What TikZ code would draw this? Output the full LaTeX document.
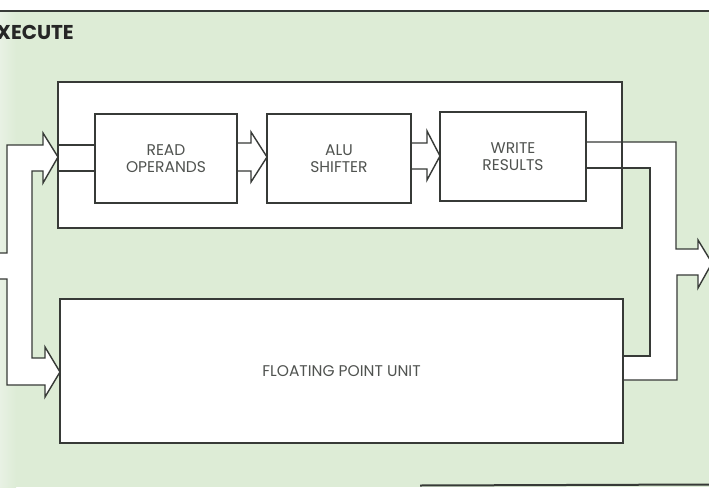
\documentclass[tikz,border=0pt]{standalone}
\usepackage{fontspec}
\setmainfont{Poppins}
\definecolor{bg}{RGB}{221,236,214}
\definecolor{bgl}{RGB}{232,241,228}
\definecolor{linec}{RGB}{55,58,55}
\definecolor{txtc}{RGB}{80,83,80}
\begin{document}
\begin{tikzpicture}[x=1pt,y=-1pt,
  ln/.style={draw=linec, line width=1.4pt, line join=miter},
  blk/.style={draw=linec, fill=white, line width=1.4pt, rectangle, inner sep=0pt,
    font=\fontsize{15.5}{16.5}\selectfont, text=txtc, align=center},
  fat/.style={fill=white}]
\useasboundingbox (0,0) rectangle (709,487);
\clip (0,0) rectangle (709,487);
% background
\fill[white] (0,0) rectangle (709,487);
\fill[bg] (0,11) rectangle (709,487);
\shade[left color=bgl, right color=bg] (0,11) rectangle (16,487);
\draw[linec, line width=2pt] (0,11) -- (709,11);
\draw[linec, line width=2pt] (420,485.5) -- (709,484.5);
% title
\node[anchor=base east, font=\fontsize{20}{22}\selectfont\bfseries, text=black!85, inner sep=0pt] (title) at (74,40) {EXECUTE};
% fat arrow fills (under boxes)
\fill[fat] (-5,253) -- (7,253) -- (7,145) -- (43,145) -- (43,133) -- (58,157) -- (43,183) -- (43,171) -- (32,171)
  -- (32,358) -- (45,358) -- (45,347) -- (60,372) -- (45,397) -- (45,385) -- (7,385) -- (7,279) -- (-5,279) -- cycle;
\fill[fat] (586,142) -- (676,142) -- (676,249) -- (698,249) -- (698,240) -- (712,263) -- (698,288) -- (698,275)
  -- (677,275) -- (677,380) -- (623,380) -- (623,356) -- (650,356) -- (650,168) -- (586,168) -- cycle;
% outer boxes
\node[blk, minimum width=564pt, minimum height=146pt] (outer) at (340,155) {};
\node[blk, minimum width=563pt, minimum height=144pt] (fpu) at (341.5,371) {FLOATING POINT UNIT};
% inner boxes
\node[blk, minimum width=142pt, minimum height=89pt] (read) at (166,158.5) {READ\\OPERANDS};
\node[blk, minimum width=144pt, minimum height=89pt] (alu) at (339,158.5) {ALU\\SHIFTER};
\node[blk, minimum width=146pt, minimum height=89pt] (write) at (513,156.5) {WRITE\\RESULTS};
% fat arrow outlines
\draw[ln] (-5,253) -- (7,253) -- (7,145) -- (43,145) -- (43,133) -- (58,157) -- (43,183) -- (43,171) -- (32,171)
  -- (32,358) -- (45,358) -- (45,347) -- (60,372) -- (45,397) -- (45,385) -- (7,385) -- (7,279) -- (-5,279);
\draw[ln] (outer.west |- 0,145) -- (read.west |- 0,145);
\draw[ln] (outer.west |- 0,171) -- (read.west |- 0,171);
\draw[ln] (read.east |- 0,143) -- (251,143) -- (251,132) -- (267,157) -- (251,182) -- (251,171) -- (read.east |- 0,171);
\draw[ln] (alu.east |- 0,143) -- (427,143) -- (427,131) -- (440,156) -- (427,180) -- (427,169) -- (alu.east |- 0,169);
\draw[ln] (write.east |- 0,142) -- (676,142) -- (676,249) -- (698,249) -- (698,240) -- (712,263) -- (698,288) -- (698,275)
  -- (677,275) -- (677,380) -- (fpu.east |- 0,380);
\draw[ln] (write.east |- 0,168) -- (650,168) -- (650,356) -- (fpu.east |- 0,356);
\draw[linec, line width=1.4pt] (outer.north east) -- (outer.south east);
\end{tikzpicture}
\end{document}
